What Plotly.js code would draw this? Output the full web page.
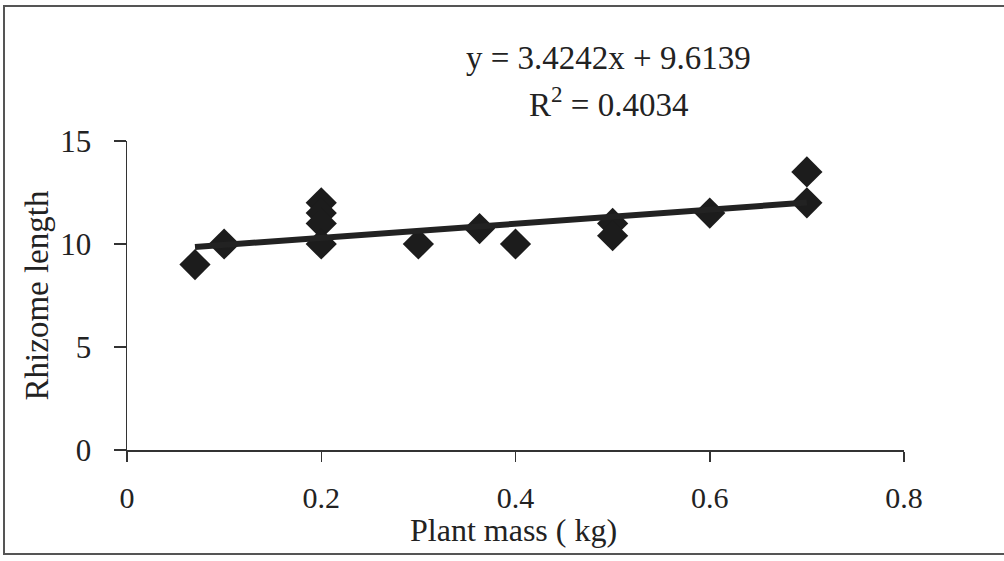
<!DOCTYPE html>
<html><head><meta charset="utf-8">
<script src="https://cdn.plot.ly/plotly-3.0.1.min.js"></script>
<style>
html,body{margin:0;padding:0;background:#fff;}
#wrap{position:relative;width:1004px;height:561px;}
#chart{width:1004px;height:561px;}
#frame{position:absolute;left:3px;top:5px;width:1004px;height:550px;border:2px solid #555;box-sizing:border-box;pointer-events:none;}
</style></head>
<body>
<div id="wrap"><div id="chart"></div><div id="frame"></div></div>
<script>
const plantMass = [0.07, 0.1, 0.2, 0.2, 0.2, 0.2, 0.3, 0.363, 0.4, 0.5, 0.5, 0.6, 0.7, 0.7];
const rhizomeLength = [9, 10, 12, 11.5, 11, 10, 10, 10.75, 10, 11, 10.4, 11.5, 13.5, 12];
const slope = 3.4242;
const intercept = 9.6139;
const rSquared = 0.4034;
const xTickVals = [0, 0.2, 0.4, 0.6, 0.8];
const xTickText = ['0', '0.2', '0.4', '0.6', '0.8'];
const yTickVals = [0, 5, 10, 15];
const xTitle = 'Plant mass ( kg)';
const yTitle = 'Rhizome length';

const xMin = Math.min(...plantMass), xMax = Math.max(...plantMass);
const fitX = [xMin, xMax];
const fitY = fitX.map(v => slope * v + intercept);

const fam = 'Liberation Serif, Times New Roman, serif';
const f = s => ({family: fam, color: '#222', size: s});

const data = [
  {x: plantMass, y: rhizomeLength, type: 'scatter', mode: 'markers',
   marker: {symbol: 'diamond', size: 24, color: '#1c1c1c'}, hoverinfo: 'skip'},
  {x: fitX, y: fitY, type: 'scatter', mode: 'lines',
   line: {color: '#222', width: 6}, hoverinfo: 'skip'}
];

const layout = {
  width: 1004, height: 561,
  margin: {l: 127, r: 100, t: 141, b: 111},
  paper_bgcolor: '#fff', plot_bgcolor: '#fff',
  showlegend: false,
  font: f(30),
  xaxis: {
    range: [0, 0.8], tickvals: xTickVals, ticktext: xTickText,
    showgrid: false, zeroline: false, showline: true, linecolor: '#333', linewidth: 1.5,
    ticks: 'outside', ticklen: 10, tickcolor: '#333', tickwidth: 1.5,
    ticklabelstandoff: 10,
    tickfont: f(30)
  },
  yaxis: {
    range: [0, 15], tickvals: yTickVals,
    showgrid: false, zeroline: false, showline: true, linecolor: '#333', linewidth: 1.5,
    ticks: 'outside', ticklen: 12, tickcolor: '#333', tickwidth: 1.5,
    ticklabelstandoff: 16,
    tickfont: f(31),
    title: {text: yTitle, font: f(33), standoff: 1}
  },
  annotations: [
    {xref: 'paper', yref: 'paper', x: 0.62, y: 1.268, xanchor: 'center', yanchor: 'middle',
     showarrow: false, text: 'y = ' + slope + 'x + ' + intercept, font: f(33)},
    {xref: 'paper', yref: 'paper', x: 0.62, y: 1.127, xanchor: 'center', yanchor: 'middle',
     showarrow: false, text: 'R<sup>2</sup> = ' + rSquared, font: f(33)},
    {xref: 'paper', yref: 'paper', x: 0.497, y: -0.258, xanchor: 'center', yanchor: 'middle',
     showarrow: false, text: xTitle, font: f(32)}
  ]
};

Plotly.newPlot('chart', data, layout, {staticPlot: true, displayModeBar: false});
</script>
</body></html>
